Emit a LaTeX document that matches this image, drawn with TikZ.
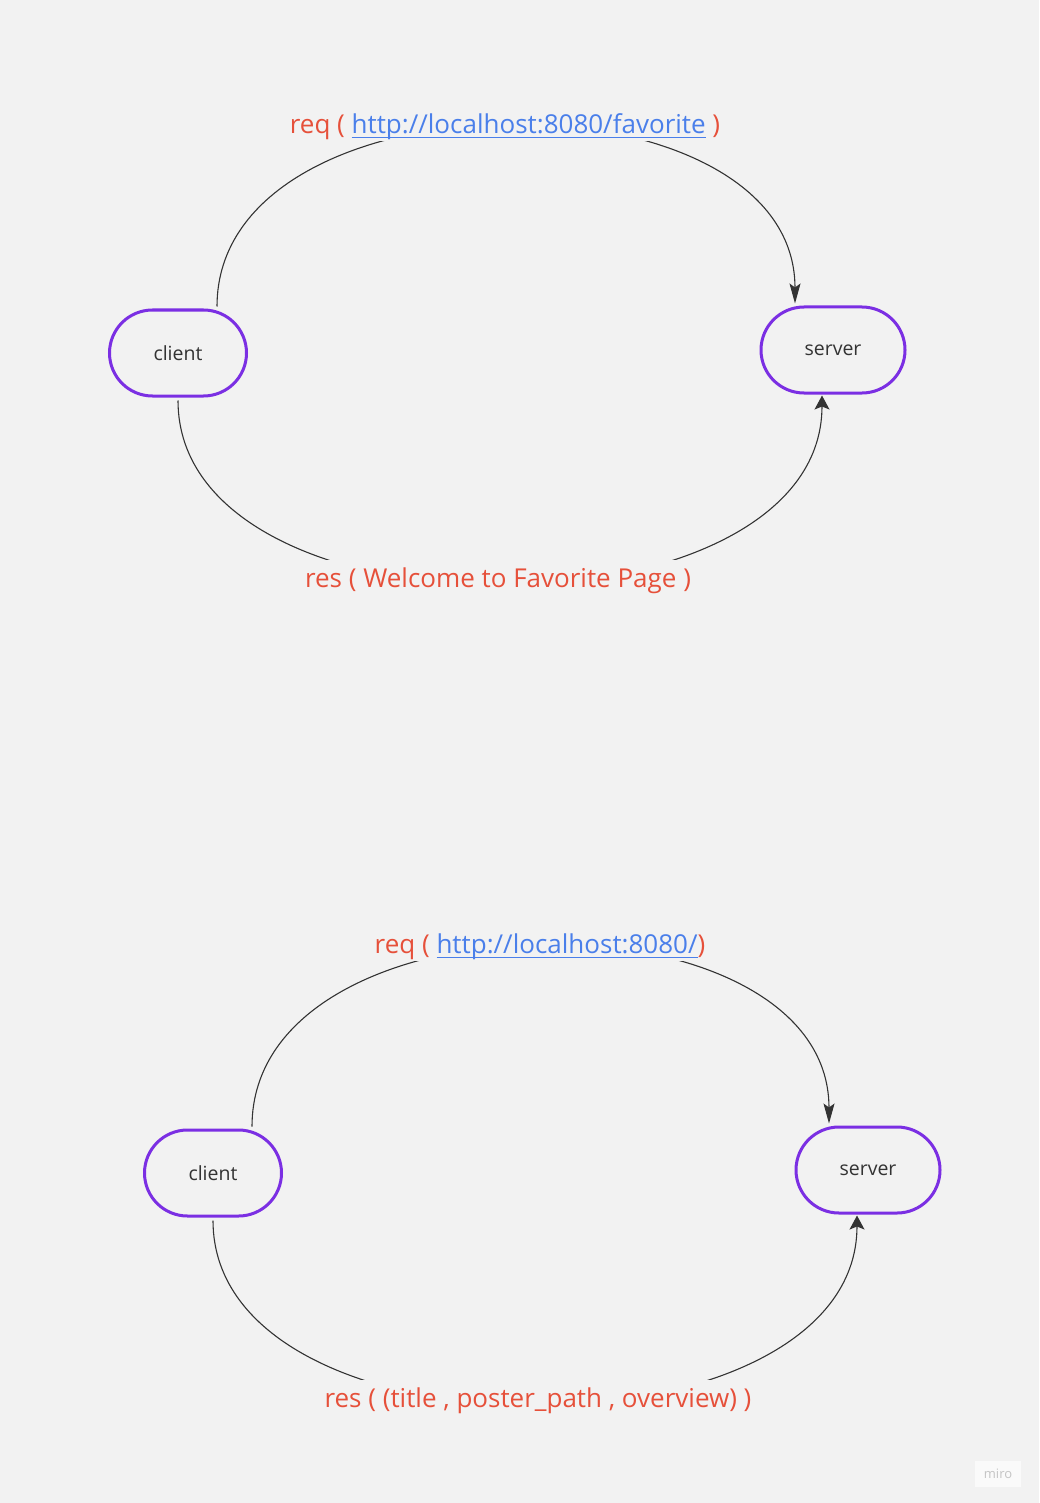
\documentclass[tikz,border=0pt]{standalone}
\usepackage{fontspec}
\setmainfont{Open Sans}
\usetikzlibrary{arrows.meta}
\usepackage{calc}
\definecolor{bg}{HTML}{F2F2F2}
\definecolor{pur}{HTML}{7B2FE3}
\definecolor{lab}{HTML}{E6503A}
\definecolor{lnk}{HTML}{4A7FEA}
\definecolor{ink}{HTML}{333333}
\definecolor{wm}{HTML}{C4C4C4}
\newcommand\linkul[1]{\textcolor{lnk}{\rlap{\rule[-4.5pt]{\widthof{#1}}{1.6pt}}#1}}
\begin{document}
\begin{tikzpicture}[x=1pt,y=-1pt,
  term/.style={draw=pur, line width=3pt, rounded corners=43pt, minimum width=137pt, minimum height=86pt, inner sep=0pt, font=\fontsize{19.5}{23}\selectfont, text=ink},
  lbl/.style={fill=bg, inner xsep=3pt, inner ysep=0.5pt, font=\fontsize{26}{30}\selectfont, text=lab},
  reslbl/.style={lbl, inner ysep=8pt},
  flow/.style={draw=ink, line width=1.1pt},
  tipdown/.style={-{Stealth[length=20pt,width=11pt,inset=4pt]}},
  tipup/.style={-{Stealth[length=14pt,width=15pt,inset=3pt]}}]
\useasboundingbox (0,0) rectangle (1039,1503);
\fill[bg] (0,0) rectangle (1039,1503);
% top diagram
\node[term] (c1) at (178,353) {client};
\node[term, minimum width=144pt] (s1) at (833,350) {server};
\draw[flow,tipdown,shorten >=2pt] ([xshift=39pt,yshift=2pt]c1.north) .. controls +(0,-240) and +(0,-240) .. ([xshift=-38pt]s1.north);
\draw[flow,tipup,shorten >=1pt] ([yshift=-3pt]c1.south) .. controls +(0,248) and +(0,250) .. ([xshift=-11pt]s1.south);
\node[lbl] (q1) at (505,127) {req ( \linkul{http://localhost:8080/favorite} )};
\node[reslbl] (r1) at (498,581) {res ( Welcome to Favorite Page )};
% bottom diagram
\node[term] (c2) at (213,1173) {client};
\node[term, minimum width=144pt] (s2) at (868,1170) {server};
\draw[flow,tipdown,shorten >=2pt] ([xshift=39pt,yshift=2pt]c2.north) .. controls +(0,-240) and +(0,-240) .. ([xshift=-39pt]s2.north);
\draw[flow,tipup,shorten >=1pt] ([yshift=-3pt]c2.south) .. controls +(0,248) and +(0,250) .. ([xshift=-11pt]s2.south);
\node[lbl] (q2) at (540,947) {req ( \linkul{http://localhost:8080/})};
\node[reslbl] (r2) at (538,1401) {res ( (title , poster\_path , overview) )};
% watermark
\node[fill=white!60!bg, minimum width=46pt, minimum height=26pt, inner sep=0pt, text=wm, font=\fontsize{13}{15}\selectfont] (wm) at (998,1474) {miro};
\end{tikzpicture}
\end{document}
